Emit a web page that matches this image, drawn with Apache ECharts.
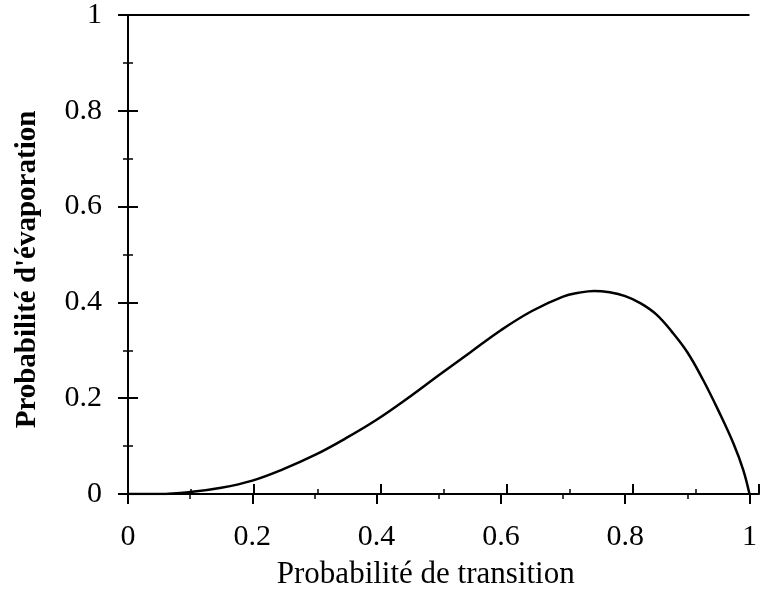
<!DOCTYPE html>
<html>
<head>
<meta charset="utf-8">
<script src="https://cdn.jsdelivr.net/npm/echarts@6/dist/echarts.min.js"></script>
<style>
  html, body { margin: 0; padding: 0; background: #fff; }
  #chart { width: 760px; height: 598px; }
</style>
</head>
<body>
<div id="chart"></div>
<script>
// values
const transition = [0, 0.05, 0.1, 0.15, 0.2, 0.25, 0.3, 0.35, 0.4, 0.45, 0.5, 0.55, 0.6, 0.65, 0.7, 0.725, 0.75, 0.775, 0.8, 0.825, 0.85, 0.875, 0.9, 0.925, 0.95, 0.975, 0.99, 1];
const evaporation = [0, 0, 0.004, 0.013, 0.028, 0.052, 0.081, 0.116, 0.155, 0.2, 0.248, 0.295, 0.342, 0.382, 0.412, 0.42, 0.424, 0.421, 0.413, 0.398, 0.375, 0.339, 0.296, 0.239, 0.174, 0.103, 0.05, 0];
const xTicks = [0, 0.2, 0.4, 0.6, 0.8, 1];
const yTicks = [0, 0.2, 0.4, 0.6, 0.8, 1];

const font = "'Liberation Serif', 'DejaVu Serif', serif";
const ink = '#000';

const chart = echarts.init(document.getElementById('chart'));

// one axis draws the outer half of each tick, a twin in a second grid draws the inner half
const makeAxis = (ticks, inside, extra) => Object.assign({
  type: 'value',
  min: ticks[0],
  max: ticks[ticks.length - 1],
  interval: ticks[1] - ticks[0],
  splitLine: { show: false },
  axisLine: { show: true, onZero: false, lineStyle: { color: ink, width: 2 } },
  axisTick: { show: true, inside, length: 10, lineStyle: { color: ink, width: 2 } },
  minorTick: { show: true, splitNumber: 2, length: 5, lineStyle: { color: ink, width: 1.5 } },
  axisLabel: { show: false }
}, extra);

const pairs = transition.map((t, i) => [t, evaporation[i]]);
const box = { left: 128, right: 1, top: 15, bottom: 104, containLabel: false };

chart.setOption({
  animation: false,
  backgroundColor: '#fff',
  grid: [Object.assign({}, box), Object.assign({}, box)],
  xAxis: [
    makeAxis(xTicks, false, {
      gridIndex: 0,
      position: 'bottom',
      name: 'Probabilité de transition',
      nameLocation: 'middle',
      nameGap: 65,
      nameTextStyle: { fontFamily: font, fontSize: 31, color: ink, padding: [0, 26, 0, 0] },
      axisLabel: { show: true, margin: 28, fontFamily: font, fontSize: 30, color: ink }
    }),
    makeAxis(xTicks, true, { gridIndex: 1, position: 'bottom' })
  ],
  yAxis: [
    makeAxis(yTicks, false, {
      gridIndex: 0,
      position: 'left',
      name: "Probabilité d'évaporation",
      nameLocation: 'middle',
      nameGap: 86,
      nameTextStyle: { fontFamily: font, fontSize: 29, fontWeight: 'bold', color: ink, padding: [0, 30, 0, 0] },
      axisLabel: { show: true, margin: 26, fontFamily: font, fontSize: 30, color: ink }
    }),
    makeAxis(yTicks, true, { gridIndex: 1, position: 'left' })
  ],
  series: [
    {
      type: 'line',
      xAxisIndex: 0,
      yAxisIndex: 0,
      data: pairs,
      showSymbol: false,
      symbol: 'none',
      smooth: 0.4,
      lineStyle: { color: ink, width: 2.5 },
      // top frame line at y = 1
      markLine: {
        silent: true,
        symbol: 'none',
        label: { show: false },
        lineStyle: { color: ink, width: 2, type: 'solid' },
        data: [{ yAxis: yTicks[yTicks.length - 1] }]
      }
    },
    { type: 'line', xAxisIndex: 1, yAxisIndex: 1, data: [], symbol: 'none' }
  ]
});
</script>
</body>
</html>
